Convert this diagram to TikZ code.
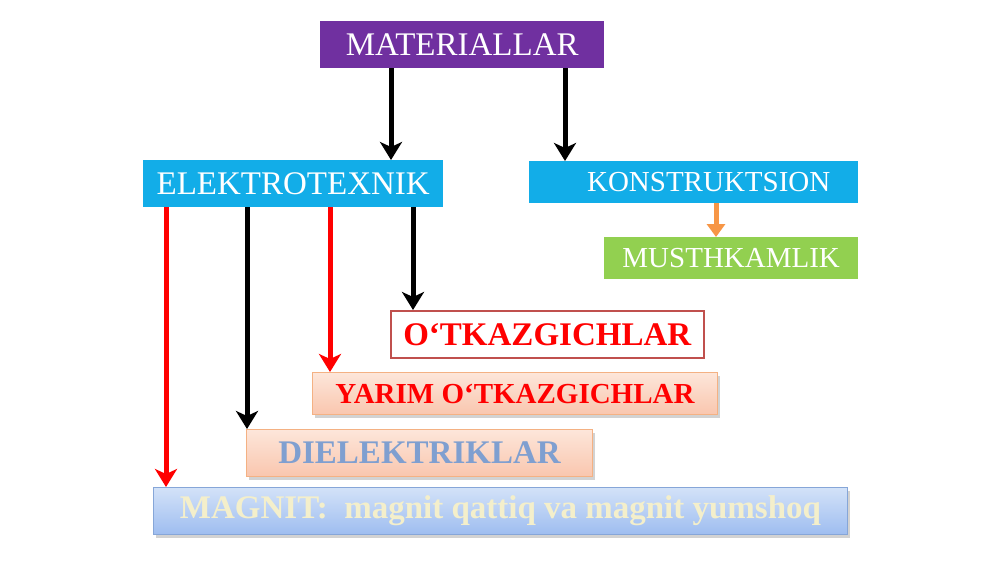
\documentclass[tikz,border=0pt]{standalone}
\usepackage{fontspec}
\setmainfont{Liberation Serif}
\usetikzlibrary{arrows.meta,shadows}
\definecolor{cpurple}{HTML}{7030A0}
\definecolor{cblue}{HTML}{12ADE8}
\definecolor{cgreen}{HTML}{92D050}
\definecolor{cborder}{HTML}{C0504D}
\definecolor{cred}{HTML}{FF0000}
\definecolor{corange}{HTML}{F79646}
\definecolor{peachtop}{HTML}{FDE6DA}
\definecolor{peachbot}{HTML}{F9C6AE}
\definecolor{peachline}{HTML}{F4B183}
\definecolor{bluetop}{HTML}{D3E2F8}
\definecolor{bluebot}{HTML}{9EBDF0}
\definecolor{blueline}{HTML}{86A6D8}
\definecolor{dieltext}{HTML}{7F9FD0}
\definecolor{magtext}{HTML}{F4EFCB}
\tikzset{
  box/.style={rectangle, inner sep=0pt, anchor=north west, text=white, font=\fontsize{33}{37}\selectfont},
  peachbox/.style={box, top color=peachtop, bottom color=peachbot, draw=peachline, line width=1pt,
     drop shadow={shadow xshift=2pt, shadow yshift=-3pt, opacity=0.35}},
  arr/.style={line width=5pt, -{Stealth[length=18pt,width=22pt,inset=5pt]}},
}
\begin{document}
\begin{tikzpicture}[x=1pt,y=-1pt]
\useasboundingbox[fill=white] (0,0) rectangle (1000,562);
% top
\node[box, fill=cpurple, minimum width=284pt, minimum height=47pt] (mat) at (320,21) {MATERIALLAR};
\node[box, fill=cblue, minimum width=300pt, minimum height=47pt] (ele) at (143,160) {ELEKTROTEXNIK};
\node[box, fill=cblue, minimum width=329pt, minimum height=42pt, font=\fontsize{29}{33}\selectfont] (kon) at (529,161) {\hspace*{30pt}KONSTRUKTSION};
\node[box, fill=cgreen, minimum width=254pt, minimum height=42pt, font=\fontsize{29}{33}\selectfont] (mus) at (604,237) {MUSTHKAMLIK};
% bottom
\node[box, fill=white, draw=cborder, line width=1.5pt, text=cred, minimum width=313pt, minimum height=47pt, font=\fontsize{33}{37}\selectfont\bfseries] (otk) at (390,310) {O‘TKAZGICHLAR};
\node[peachbox, text=cred, minimum width=405pt, minimum height=42pt, font=\fontsize{29}{33}\selectfont\bfseries] (yar) at (312,372) {YARIM O‘TKAZGICHLAR};
\node[peachbox, text=dieltext, minimum width=346pt, minimum height=47pt, font=\fontsize{33}{37}\selectfont\bfseries] (die) at (246,429) {DIELEKTRIKLAR};
\node[box, top color=bluetop, bottom color=bluebot, draw=blueline, line width=1pt,
     drop shadow={shadow xshift=2pt, shadow yshift=-3pt, opacity=0.35},
     text=magtext, minimum width=694pt, minimum height=47pt, font=\fontsize{33}{37}\selectfont\bfseries] (mag) at (153,487) {MAGNIT:\ \ magnit qattiq va magnit yumshoq};
% arrows
\draw[arr, black] (mat.south -| 391,0) -- (ele.north -| 391,0);
\draw[arr, black] (mat.south -| 565,0) -- (kon.north -| 565,0);
\draw[arr, corange, -{Triangle[length=13pt,width=18pt]}] (kon.south -| 716,0) -- (mus.north -| 716,0);
\draw[arr, cred] (ele.south -| 166,0) -- (mag.north -| 166,0);
\draw[arr, black] (ele.south -| 247,0) -- (die.north -| 247,0);
\draw[arr, cred] (ele.south -| 330,0) -- (yar.north -| 330,0);
\draw[arr, black] (ele.south -| 413,0) -- (otk.north -| 413,0);
\end{tikzpicture}
\end{document}
